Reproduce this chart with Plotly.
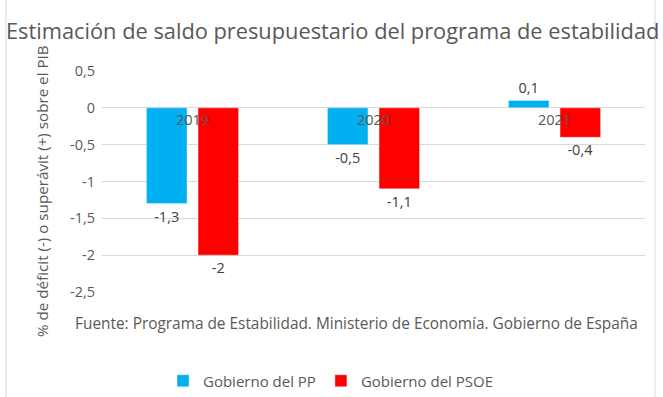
import plotly.graph_objects as go

years = ["2019", "2020", "2021"]
pp_values = [-1.3, -0.5, 0.1]
psoe_values = [-2.0, -1.1, -0.4]
series_names = ["Gobierno del PP", "Gobierno del PSOE"]
y_ticks = [0.5, 0, -0.5, -1, -1.5, -2, -2.5]

title_text = "Estimación de saldo presupuestario del programa de estabilidad"
y_title = "% de déficit (-) o superávit (+) sobre el PIB"
source_text = "Fuente: Programa de Estabilidad. Ministerio de Economía. Gobierno de España"

FONT = "Open Sans"
GRAY = "#595959"

L, R, T, B = 102, 18, 71, 105
W, H = 663, 397
PW, PH = W - L - R, H - T - B

def px_x(p):
    return (p - L) / PW

def px_y(p):
    return (H - B - p) / PH

def fmt(v):
    return ("%g" % v).replace(".", ",")

fig = go.Figure()
fig.add_trace(go.Bar(
    x=years, y=pp_values, name=series_names[0], marker_color="#00B0F0",
    text=[fmt(v) for v in pp_values], textposition="outside",
    textfont=dict(size=14.5, color="#404040", family=FONT), cliponaxis=False,
))
fig.add_trace(go.Bar(
    x=years, y=psoe_values, name=series_names[1], marker_color="#FF0000",
    text=[fmt(v) for v in psoe_values], textposition="outside",
    textfont=dict(size=14.5, color="#404040", family=FONT), cliponaxis=False,
))

for i, yr in enumerate(years):
    fig.add_annotation(x=i, y=0, xref="x", yref="y", text=yr, showarrow=False,
                       yanchor="middle", yshift=-12,
                       font=dict(size=14.5, color=GRAY, family=FONT))

fig.add_annotation(text=title_text, xref="paper", yref="paper", x=px_x(332), y=px_y(30),
                   xanchor="center", yanchor="middle", showarrow=False,
                   font=dict(size=21.8, color=GRAY, family=FONT))
fig.add_annotation(text=y_title, xref="paper", yref="paper", x=px_x(42), y=px_y(191),
                   textangle=-90, xanchor="center", yanchor="middle", showarrow=False,
                   font=dict(size=15.2, color=GRAY, family=FONT))
fig.add_annotation(text=source_text, xref="paper", yref="paper", x=px_x(356), y=px_y(323),
                   xanchor="center", yanchor="middle", showarrow=False,
                   font=dict(size=15.4, color=GRAY, family=FONT))

for p in (6, 655):
    fig.add_shape(type="line", xref="paper", yref="paper",
                  x0=px_x(p), x1=px_x(p), y0=px_y(397), y1=px_y(0),
                  line=dict(color="#d9d9d9", width=1))

fig.update_layout(
    width=W, height=H,
    margin=dict(l=L, r=R, t=T, b=B, autoexpand=False),
    paper_bgcolor="white", plot_bgcolor="white",
    barmode="group", bargap=0.43, bargroupgap=0.214,
    showlegend=True,
    legend=dict(orientation="h", xref="container", yref="container",
                x=331 / W, y=1 - 381 / H, xanchor="center", yanchor="middle",
                font=dict(size=15, color=GRAY, family=FONT), itemwidth=30, tracegroupgap=0),
    font=dict(family=FONT, color=GRAY),
)
fig.update_xaxes(type="category", range=[-0.5, 2.5], showticklabels=False, showgrid=False,
                 zeroline=False, showline=False)
fig.update_yaxes(range=[-2.5, 0.5], tickvals=y_ticks, ticktext=[fmt(v) for v in y_ticks],
                 showgrid=True, gridcolor="#d9d9d9",
                 zeroline=True, zerolinecolor="#d9d9d9", zerolinewidth=1, showline=False,
                 tickfont=dict(size=14.5, color=GRAY, family=FONT), ticks="", ticklabelstandoff=6)

fig.write_html("out.html", config={"displayModeBar": False},
               post_script="document.body.style.margin='0';")
